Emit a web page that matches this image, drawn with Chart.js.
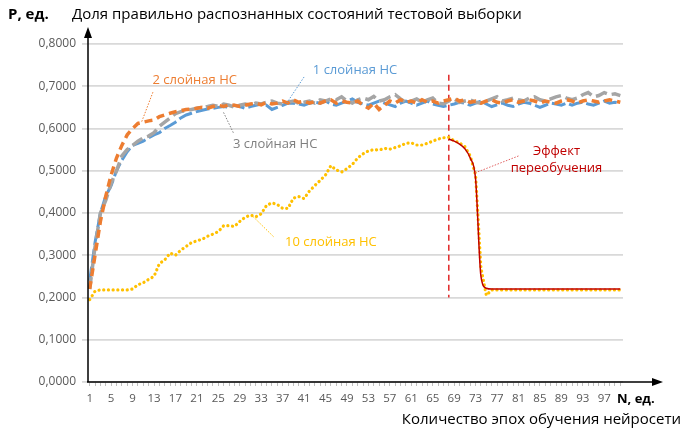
<!DOCTYPE html>
<html>
<head>
<meta charset="utf-8">
<script src="https://cdn.jsdelivr.net/npm/chart.js@4.4.1/dist/chart.umd.min.js"></script>
<style>
  html, body { margin: 0; padding: 0; background: #fff; }
</style>
</head>
<body>
<canvas id="chart" width="695" height="430"></canvas>
<script>
// epochs (categories)
const epochs = [1,2,3,4,5,6,7,8,9,10,11,12,13,14,15,16,17,18,19,20,
  21,22,23,24,25,26,27,28,29,30,31,32,33,34,35,36,37,38,39,40,
  41,42,43,44,45,46,47,48,49,50,51,52,53,54,55,56,57,58,59,60,
  61,62,63,64,65,66,67,68,69,70,71,72,73,74,75,76,77,78,79,80,
  81,82,83,84,85,86,87,88,89,90,91,92,93,94,95,96,97,98,99,100].map(String);

// share of correctly recognised states, per network depth
const layer1 = [0.24,0.33,0.40,0.44,0.465,0.50,0.525,0.545,0.56,0.565,
  0.57,0.578,0.585,0.59,0.60,0.607,0.615,0.625,0.632,0.636,
  0.64,0.643,0.646,0.648,0.65,0.652,0.65,0.655,0.652,0.648,
  0.652,0.655,0.658,0.655,0.645,0.65,0.655,0.66,0.66,0.658,
  0.655,0.66,0.662,0.66,0.665,0.658,0.655,0.66,0.665,0.67,
  0.662,0.658,0.655,0.66,0.665,0.66,0.656,0.652,0.66,0.665,
  0.66,0.655,0.66,0.665,0.658,0.655,0.652,0.655,0.658,0.662,
  0.66,0.655,0.66,0.665,0.658,0.652,0.656,0.66,0.655,0.652,
  0.658,0.662,0.66,0.655,0.65,0.655,0.66,0.658,0.655,0.66,
  0.655,0.66,0.662,0.658,0.655,0.66,0.665,0.66,0.662,0.66];

const layer2 = [0.22,0.30,0.38,0.44,0.49,0.53,0.56,0.585,0.60,0.612,
  0.615,0.618,0.62,0.628,0.632,0.636,0.64,0.642,0.645,0.646,
  0.648,0.65,0.648,0.652,0.655,0.652,0.656,0.655,0.652,0.655,
  0.658,0.66,0.656,0.662,0.658,0.66,0.665,0.66,0.668,0.662,
  0.665,0.66,0.664,0.66,0.665,0.668,0.66,0.665,0.662,0.66,
  0.665,0.655,0.648,0.66,0.645,0.655,0.665,0.66,0.668,0.662,
  0.665,0.66,0.668,0.662,0.665,0.66,0.665,0.668,0.672,0.665,
  0.668,0.662,0.665,0.66,0.665,0.668,0.662,0.66,0.665,0.668,
  0.662,0.665,0.668,0.665,0.66,0.665,0.662,0.66,0.665,0.668,
  0.665,0.66,0.665,0.668,0.665,0.662,0.665,0.668,0.665,0.662];

const layer3 = [0.22,0.32,0.40,0.43,0.47,0.50,0.535,0.55,0.56,0.57,
  0.578,0.582,0.59,0.605,0.615,0.625,0.635,0.64,0.642,0.645,
  0.648,0.65,0.652,0.655,0.652,0.658,0.655,0.65,0.655,0.658,
  0.655,0.66,0.658,0.662,0.665,0.66,0.658,0.662,0.665,0.66,
  0.662,0.665,0.66,0.668,0.665,0.67,0.668,0.675,0.665,0.66,
  0.668,0.672,0.668,0.676,0.665,0.668,0.675,0.68,0.67,0.662,
  0.665,0.67,0.662,0.668,0.672,0.66,0.658,0.665,0.67,0.662,
  0.665,0.668,0.662,0.66,0.665,0.67,0.675,0.665,0.668,0.672,
  0.668,0.665,0.672,0.675,0.668,0.665,0.67,0.675,0.678,0.672,
  0.668,0.672,0.68,0.685,0.675,0.678,0.685,0.68,0.682,0.678];

const layer10 = [0.195,0.215,0.218,0.218,0.218,0.218,0.218,0.218,0.22,0.23,
  0.235,0.243,0.25,0.28,0.289,0.305,0.30,0.312,0.321,0.33,
  0.334,0.338,0.345,0.35,0.356,0.37,0.37,0.368,0.38,0.39,
  0.395,0.391,0.398,0.418,0.424,0.42,0.411,0.411,0.435,0.439,
  0.434,0.452,0.465,0.477,0.49,0.512,0.502,0.497,0.505,0.515,
  0.53,0.54,0.547,0.55,0.549,0.553,0.551,0.555,0.559,0.565,
  0.566,0.561,0.561,0.565,0.57,0.575,0.578,0.579,0.571,0.566,
  0.557,0.535,0.49,0.27,0.205,0.218,0.218,0.218,0.218,0.218,
  0.218,0.218,0.218,0.218,0.218,0.218,0.218,0.218,0.218,0.218,
  0.218,0.218,0.218,0.218,0.218,0.218,0.218,0.218,0.218,0.218];

// overfitting trend, starts at epoch 68
const fitStart = 68;
const fitValues = [0.575,0.570,0.563,0.552,0.53,0.48,0.25,0.222,
  0.22,0.22,0.22,0.22,0.22,0.22,0.22,0.22,0.22,0.22,0.22,0.22,0.22,
  0.22,0.22,0.22,0.22,0.22,0.22,0.22,0.22,0.22,0.22,0.22,0.22];

const yTicks = [0, 0.1, 0.2, 0.3, 0.4, 0.5, 0.6, 0.7, 0.8];
const markerRange = [0.2, 0.727]; // dashed line at the overfit epoch

const FONT = '"Open Sans", "DejaVu Sans", sans-serif';
const TXT = '#595959';

// callouts: text centre, leader start / end, in (epoch, value)
const callouts = [
  { lines: ['2 слойная НС'], color: '#ed7d31', at: [20.6, 0.715], from: [12.8, 0.686], to: [10.7, 0.616] },
  { lines: ['1 слойная НС'], color: '#5b9bd5', at: [50.5, 0.737], from: [41, 0.722], to: [37.8, 0.661] },
  { lines: ['3 слойная НС'], color: '#7f7f7f', at: [35.6, 0.563], from: [27.8, 0.59], to: [25.9, 0.64] },
  { lines: ['10 слойная НС'], color: '#ffc000', at: [46.0, 0.33], from: [35.3, 0.344], to: [31.2, 0.395] },
  { lines: ['Эффект', 'переобучения'], color: '#c00000', leader: '#e06060', at: [88.1, 0.526], from: [81, 0.535], to: [72.9, 0.495] }
];

const decor = {
  id: 'decor',
  beforeDatasetsDraw(chart) {
    const { ctx, scales: { x, y } } = chart;
    const px = x.getPixelForValue(epochs.indexOf(String(fitStart)));
    ctx.save();
    ctx.strokeStyle = '#e02828';
    ctx.lineWidth = 1.5;
    ctx.setLineDash([6, 4]);
    ctx.beginPath();
    ctx.moveTo(px, y.getPixelForValue(markerRange[1]));
    ctx.lineTo(px, y.getPixelForValue(markerRange[0]));
    ctx.stroke();
    ctx.restore();
  },
  afterDraw(chart) {
    const { ctx, chartArea: a, scales: { x, y } } = chart;
    const P = (e, v) => [x.getPixelForValue(e - 1), y.getPixelForValue(v)];
    ctx.save();

    // axes with arrows
    ctx.strokeStyle = '#000';
    ctx.fillStyle = '#000';
    ctx.lineWidth = 1.5;
    ctx.setLineDash([]);
    const ax = a.left + 1;
    ctx.beginPath();
    ctx.moveTo(ax, a.bottom);
    ctx.lineTo(ax, a.top - 10);
    ctx.moveTo(a.left, a.bottom);
    ctx.lineTo(a.right + 32, a.bottom);
    ctx.stroke();
    ctx.beginPath();
    ctx.moveTo(ax, a.top - 17);
    ctx.lineTo(ax - 4, a.top - 6);
    ctx.lineTo(ax + 4, a.top - 6);
    ctx.closePath();
    ctx.fill();
    ctx.beginPath();
    ctx.moveTo(a.right + 40, a.bottom);
    ctx.lineTo(a.right + 29, a.bottom - 4);
    ctx.lineTo(a.right + 29, a.bottom + 4);
    ctx.closePath();
    ctx.fill();

    // callouts
    ctx.textAlign = 'center';
    ctx.textBaseline = 'middle';
    callouts.forEach(c => {
      const [x1, y1] = P(...c.from);
      const [x2, y2] = P(...c.to);
      ctx.strokeStyle = c.leader || c.color;
      ctx.lineWidth = 1;
      ctx.setLineDash([1.5, 1.5]);
      ctx.beginPath();
      ctx.moveTo(x1, y1);
      ctx.lineTo(x2, y2);
      ctx.stroke();
      const [tx, ty] = P(...c.at);
      ctx.fillStyle = c.color;
      ctx.font = '13px ' + FONT;
      c.lines.forEach((s, i) => ctx.fillText(s, tx, ty + (i - (c.lines.length - 1) / 2) * 16.6));
    });

    // axis titles
    ctx.fillStyle = '#000';
    ctx.textAlign = 'left';
    ctx.font = 'bold 15px ' + FONT;
    ctx.fillText('P, ед.', 8, 15);
    ctx.font = 'bold 13px ' + FONT;
    ctx.fillText('N, ед.', 617, 399);
    ctx.font = '15px ' + FONT;
    ctx.fillText('Доля правильно распознанных состояний тестовой выборки', 72, 15);
    ctx.textAlign = 'right';
    ctx.fillText('Количество эпох обучения нейросети', 681, 420);
    ctx.restore();
  }
};

new Chart(document.getElementById('chart'), {
  type: 'line',
  data: {
    labels: epochs,
    datasets: [
      {
        label: 'fit', data: fitValues.map((v, i) => ({ x: String(fitStart + i), y: v })),
        borderColor: '#c00000', borderWidth: 1.5, cubicInterpolationMode: 'monotone', order: 0
      },
      {
        label: '10 слойная НС', data: layer10, borderColor: '#ffc000', borderWidth: 3.2,
        borderDash: [0.1, 4.6], borderCapStyle: 'round', order: 1
      },
      {
        label: '2 слойная НС', data: layer2, borderColor: '#ed7d31', borderWidth: 3.5,
        borderDash: [8, 5], order: 2
      },
      {
        label: '3 слойная НС', data: layer3, borderColor: '#a5a5a5', borderWidth: 3.5,
        borderDash: [12, 5], order: 3
      },
      {
        label: '1 слойная НС', data: layer1, borderColor: '#5b9bd5', borderWidth: 3,
        borderDash: [14, 4], order: 4
      }
    ]
  },
  options: {
    responsive: false,
    animation: false,
    layout: { padding: { top: 44, right: 72, left: 0, bottom: 0 } },
    elements: { point: { radius: 0 }, line: { tension: 0 } },
    plugins: { legend: { display: false }, tooltip: { enabled: false } },
    scales: {
      x: {
        offset: true,
        border: { display: false },
        grid: { drawOnChartArea: false, tickLength: 4, color: '#bfbfbf' },
        ticks: {
          autoSkip: false, maxRotation: 0, padding: 6, color: TXT,
          font: { family: FONT, size: 11.5 },
          callback: (v, i) => (i % 4 === 0 ? epochs[i] : '')
        },
        afterFit: s => { s.height = 48; }
      },
      y: {
        min: yTicks[0], max: yTicks[yTicks.length - 1],
        border: { display: false },
        grid: { color: '#d9d9d9', lineWidth: 1.8, tickLength: 5 },
        ticks: {
          stepSize: 0.1, padding: 6, color: TXT,
          font: { family: FONT, size: 12 },
          callback: v => v.toFixed(4).replace('.', ',')
        },
        afterBuildTicks: s => { s.ticks = yTicks.map(v => ({ value: v })); },
        afterFit: s => { s.width = 87; }
      }
    }
  },
  plugins: [decor]
});
</script>
</body>
</html>
